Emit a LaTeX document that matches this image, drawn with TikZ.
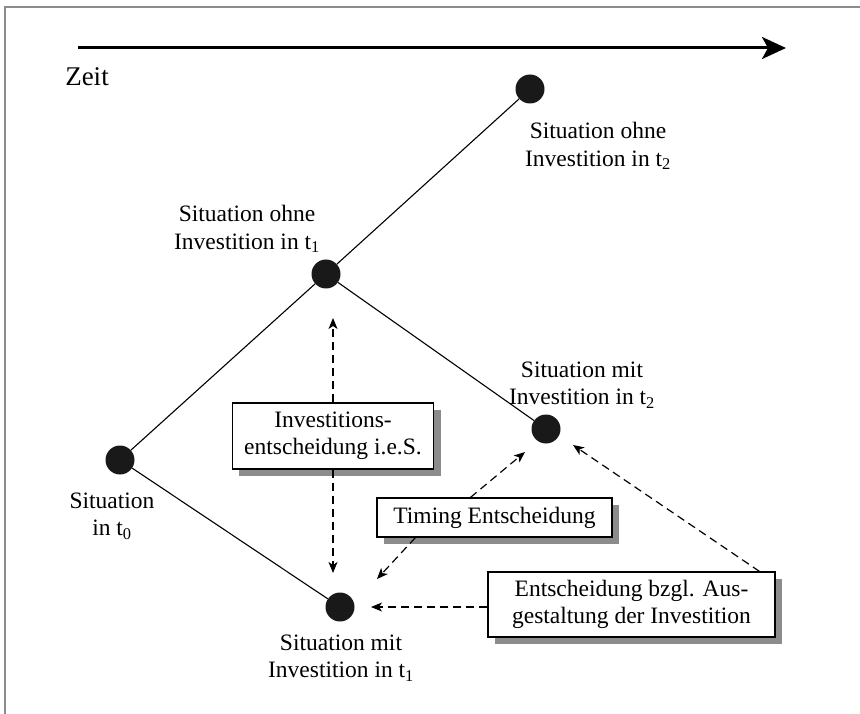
\documentclass[tikz,border=0pt]{standalone}
\usepackage{fontspec}
\setmainfont{Liberation Serif}
\usetikzlibrary{arrows.meta,shadows}
\begin{document}
\begin{tikzpicture}[x=1pt,y=-1pt,
  every node/.style={font=\fontsize{23.5}{27.5}\selectfont, inner sep=0pt},
  dot/.style={circle, fill=black!90, minimum size=29pt},
  lbl/.style={align=center},
  sbox/.style={draw, line width=1.1pt, fill=white, align=center, inner xsep=12pt, inner ysep=7pt,
     drop shadow={shadow xshift=7pt, shadow yshift=-7pt, fill=black!45, opacity=1}},
  tree/.style={line width=1.1pt},
  darr/.style={line width=1.2pt, dash pattern=on 8pt off 5pt, -{Stealth[length=11pt,width=9pt,inset=3pt]}}
]
\useasboundingbox (0,0) rectangle (860,714);
\draw[black!45, line width=1.5pt] (5,714) -- (5,7) -- (860,7);

% time axis
\coordinate (ax0) at (78,48);
\coordinate (ax1) at (786,48);
\draw[line width=3pt, -{Stealth[length=24pt,width=22pt,inset=6pt]}] (ax0) -- (ax1);
\node[font=\fontsize{27}{30}\selectfont] (zeit) at (87,77) {Zeit};

% situations
\node[dot] (t0) at (120,460) {};
\node[dot] (t1o) at (326,274) {};
\node[dot] (t2o) at (530,89) {};
\node[dot] (t2m) at (546,429) {};
\node[dot] (t1m) at (340,607) {};

\draw[tree] (t0) -- (t1o) -- (t2o);
\draw[tree] (t1o) -- (t2m);
\draw[tree] (t0) -- (t1m);

\node[lbl] (l2o) at (598,146) {Situation ohne\\Investition in t\textsubscript{2}};
\node[lbl] (l1o) at (247,229) {Situation ohne\\Investition in t\textsubscript{1}};
\node[lbl] (l2m) at (582,385) {Situation mit\\Investition in t\textsubscript{2}};
\node[lbl] (l0) at (112,516) {Situation\\in t\textsubscript{0}};
\node[lbl] (l1m) at (341,658) {Situation mit\\Investition in t\textsubscript{1}};

% decision boxes
\node[sbox, minimum width=200pt, minimum height=66pt] (ie) at (333,436) {Investitions-\\entscheidung i.e.S.};
\node[sbox, minimum width=235pt, minimum height=39pt] (tim) at (494.5,517.5) {Timing Entscheidung};
\node[sbox, minimum width=287pt, minimum height=65pt] (aus) at (631.5,604.5) {Entscheidung bzgl. Aus-\\gestaltung der Investition};

% arrow targets
\coordinate (a1) at (333,318);
\coordinate (a2) at (333,573);
\coordinate (a3) at (525,452);
\coordinate (a4) at (377,579);
\coordinate (a5) at (371,607);
\coordinate (a6) at (573,445);

\draw[darr] (ie.north) -- (a1);
\draw[darr] (ie.south) -- (a2);
\draw[darr] (tim.north west) ++(94,0) -- (a3);
\draw[darr] (tim.south west) ++(39,0) -- (a4);
\draw[darr] (aus.west |- a5) -- (a5);
\draw[darr] (aus.north east) ++(-16,0) -- (a6);
\end{tikzpicture}
\end{document}
